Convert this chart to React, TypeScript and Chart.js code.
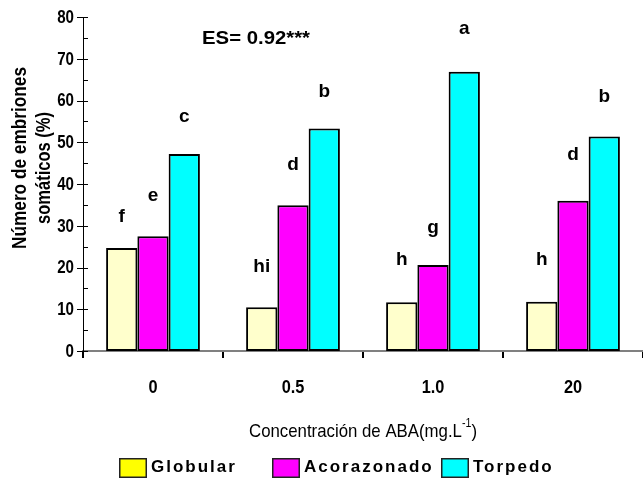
import React, { useEffect, useRef } from 'react';
import { Chart, registerables } from 'chart.js';
Chart.register(...registerables);

const categories = ['0', '0.5', '1.0', '20'];
const seriesNames = ['Globular', 'Acorazonado', 'Torpedo'];
const globular = [24.7, 10.5, 11.7, 11.8];
const acorazonado = [27.5, 34.9, 20.6, 36.0];
const torpedo = [47.2, 53.3, 66.9, 51.4];
const globularLetters = ['f', 'hi', 'h', 'h'];
const acorazonadoLetters = ['e', 'd', 'g', 'd'];
const torpedoLetters = ['c', 'b', 'a', 'b'];
const globularLetterAt = [32.1, 20.1, 21.8, 21.8];
const acorazonadoLetterAt = [37.1, 44.5, 29.4, 46.9];
const torpedoLetterAt = [56.0, 62.0, 77.2, 60.8];
const yMin = 0;
const yMax = 80;
const yStep = 10;
const yMinorStep = 5;
const yTitleLines = ['Número de embriones', 'somáticos (%)'];
const xTitleMain = 'Concentración de ABA(mg.L';
const xTitleSup = '-1';
const xTitleEnd = ')';
const statText = 'ES= 0.92***';
const statAt = 74.9;

const barColors = ['#FFFFCC', '#FF00FF', '#00FFFF'];
const legendColors = ['#FFFF00', '#FF00FF', '#00FFFF'];

const SANS = "'Liberation Sans', Arial, Helvetica, sans-serif";

function fitText(ctx: CanvasRenderingContext2D, text: string, x: number, y: number, width: number, align: CanvasTextAlign) {
  const w = ctx.measureText(text).width;
  const s = width / w;
  ctx.save();
  ctx.translate(x, y);
  ctx.scale(s, 1);
  ctx.textAlign = align;
  ctx.fillText(text, 0, 0);
  ctx.restore();
  return w * s;
}

function squeezeText(ctx: CanvasRenderingContext2D, text: string, x: number, y: number, s: number, align: CanvasTextAlign) {
  ctx.save();
  ctx.translate(x, y);
  ctx.scale(s, 1);
  ctx.textAlign = align;
  ctx.fillText(text, 0, 0);
  ctx.restore();
}

const decorations = {
  id: 'decorations',
  afterDraw(chart: any) {
    const ctx: CanvasRenderingContext2D = chart.ctx;
    const ys = chart.scales.y;
    const xs = chart.scales.x;
    const area = chart.chartArea;
    ctx.save();
    // y ticks (major crossing, minor inside)
    ctx.strokeStyle = '#000';
    ctx.lineWidth = 1;
    for (let v = yMin; v <= yMax; v += yMinorStep) {
      const py = Math.round(ys.getPixelForValue(v)) + 0.5;
      const major = v % yStep === 0;
      ctx.beginPath();
      ctx.moveTo(area.left - (major ? 6 : 0), py);
      ctx.lineTo(area.left + 5, py);
      ctx.stroke();
    }
    // tick labels (tight bold)
    ctx.fillStyle = '#000';
    ctx.font = `bold 18px ${SANS}`;
    ctx.textBaseline = 'middle';
    ys.ticks.forEach((t: any) => {
      squeezeText(ctx, String(t.value), area.left - 9, ys.getPixelForValue(t.value) + 1, 0.84, 'right');
    });
    ctx.font = `bold 19px ${SANS}`;
    categories.forEach((c, i) => {
      squeezeText(ctx, c, xs.getPixelForValue(i), 388, 0.86, 'center');
    });
    // significance letters
    ctx.font = `bold 19px ${SANS}`;
    ctx.textAlign = 'center';
    ctx.textBaseline = 'middle';
    const letters = [globularLetters, acorazonadoLetters, torpedoLetters];
    const at = [globularLetterAt, acorazonadoLetterAt, torpedoLetterAt];
    letters.forEach((arr, i) => {
      const meta = chart.getDatasetMeta(i);
      arr.forEach((t, j) => {
        const el = meta.data[j];
        ctx.fillText(t, el.x, ys.getPixelForValue(at[i][j]));
      });
    });
    // statistic
    ctx.font = `bold 19px ${SANS}`;
    ctx.textBaseline = 'middle';
    fitText(ctx, statText, area.left + 119, ys.getPixelForValue(statAt), 108, 'left');
    // y title
    ctx.font = `bold 20px ${SANS}`;
    ctx.save();
    ctx.translate(20, 158);
    ctx.rotate(-Math.PI / 2);
    fitText(ctx, yTitleLines[0], 0, 0, 182, 'center');
    ctx.restore();
    ctx.save();
    ctx.translate(44, 168);
    ctx.rotate(-Math.PI / 2);
    fitText(ctx, yTitleLines[1], 0, 0, 112, 'center');
    ctx.restore();
    // x title
    ctx.font = `19px ${SANS}`;
    ctx.textBaseline = 'alphabetic';
    const cx = (area.left + area.right) / 2;
    const mainW0 = ctx.measureText(xTitleMain).width;
    ctx.font = `12px ${SANS}`;
    const supW0 = ctx.measureText(xTitleSup).width;
    ctx.font = `19px ${SANS}`;
    const endW0 = ctx.measureText(xTitleEnd).width;
    const s = 228 / (mainW0 + supW0 + endW0);
    const total = (mainW0 + supW0 + endW0) * s;
    const x0 = cx - total / 2;
    const base = 437;
    ctx.save();
    ctx.translate(x0, base);
    ctx.scale(s, 1);
    ctx.textAlign = 'left';
    ctx.fillText(xTitleMain, 0, 0);
    ctx.font = `12px ${SANS}`;
    ctx.fillText(xTitleSup, mainW0, -10);
    ctx.font = `19px ${SANS}`;
    ctx.fillText(xTitleEnd, mainW0 + supW0, 0);
    ctx.restore();
    // legend
    const boxX = [119, 272, 441];
    const boxTop = 458;
    ctx.font = `bold 17px ${SANS}`;
    ctx.textAlign = 'left';
    ctx.textBaseline = 'middle';
    (ctx as any).letterSpacing = '2px';
    seriesNames.forEach((name, i) => {
      ctx.fillStyle = legendColors[i];
      ctx.fillRect(boxX[i], boxTop, 28, 20);
      ctx.strokeStyle = '#222';
      ctx.lineWidth = 1.5;
      ctx.strokeRect(boxX[i] + 0.75, boxTop + 0.75, 26.5, 18.5);
      ctx.fillStyle = '#000';
      ctx.fillText(name, boxX[i] + 32, boxTop + 9);
    });
    (ctx as any).letterSpacing = '0px';
    ctx.restore();
  },
};

export default function App() {
  const ref = useRef<HTMLCanvasElement>(null);
  useEffect(() => {
    const c = ref.current;
    if (!c) return;
    const series = [globular, acorazonado, torpedo];
    const chart = new Chart(c, {
      type: 'bar',
      data: {
        labels: categories,
        datasets: series.map((d, i) => ({
          label: seriesNames[i],
          data: d,
          backgroundColor: barColors[i],
          borderColor: '#000',
          borderWidth: 2,
          borderSkipped: false,
          barPercentage: 1,
          categoryPercentage: 0.67,
        })),
      },
      options: {
        animation: false,
        responsive: false,
        devicePixelRatio: 1,
        layout: { padding: { top: 17, left: 0, right: 0, bottom: 0 } },
        plugins: { legend: { display: false }, tooltip: { enabled: false }, title: { display: false } },
        scales: {
          x: {
            offset: true,
            grid: { offset: true, drawOnChartArea: false, drawTicks: true, tickLength: 7, color: '#000', lineWidth: 2 },
            border: { display: true, color: '#808080', width: 2 },
            ticks: { display: false },
            afterFit: (scale: any) => { scale.height = 135; },
          },
          y: {
            min: yMin,
            max: yMax,
            grid: { display: false, drawTicks: false },
            border: { display: true, color: '#000', width: 1 },
            ticks: { display: false, stepSize: yStep },
            afterFit: (scale: any) => { scale.width = 83; },
          },
        },
      },
      plugins: [decorations],
    });
    return () => chart.destroy();
  }, []);
  return (
    <div style={{ position: 'absolute', left: 0, top: 0, width: 643, height: 486, overflow: 'hidden', background: '#fff' }}>
      <canvas ref={ref} width={643} height={486} style={{ display: 'block' }} />
    </div>
  );
}
